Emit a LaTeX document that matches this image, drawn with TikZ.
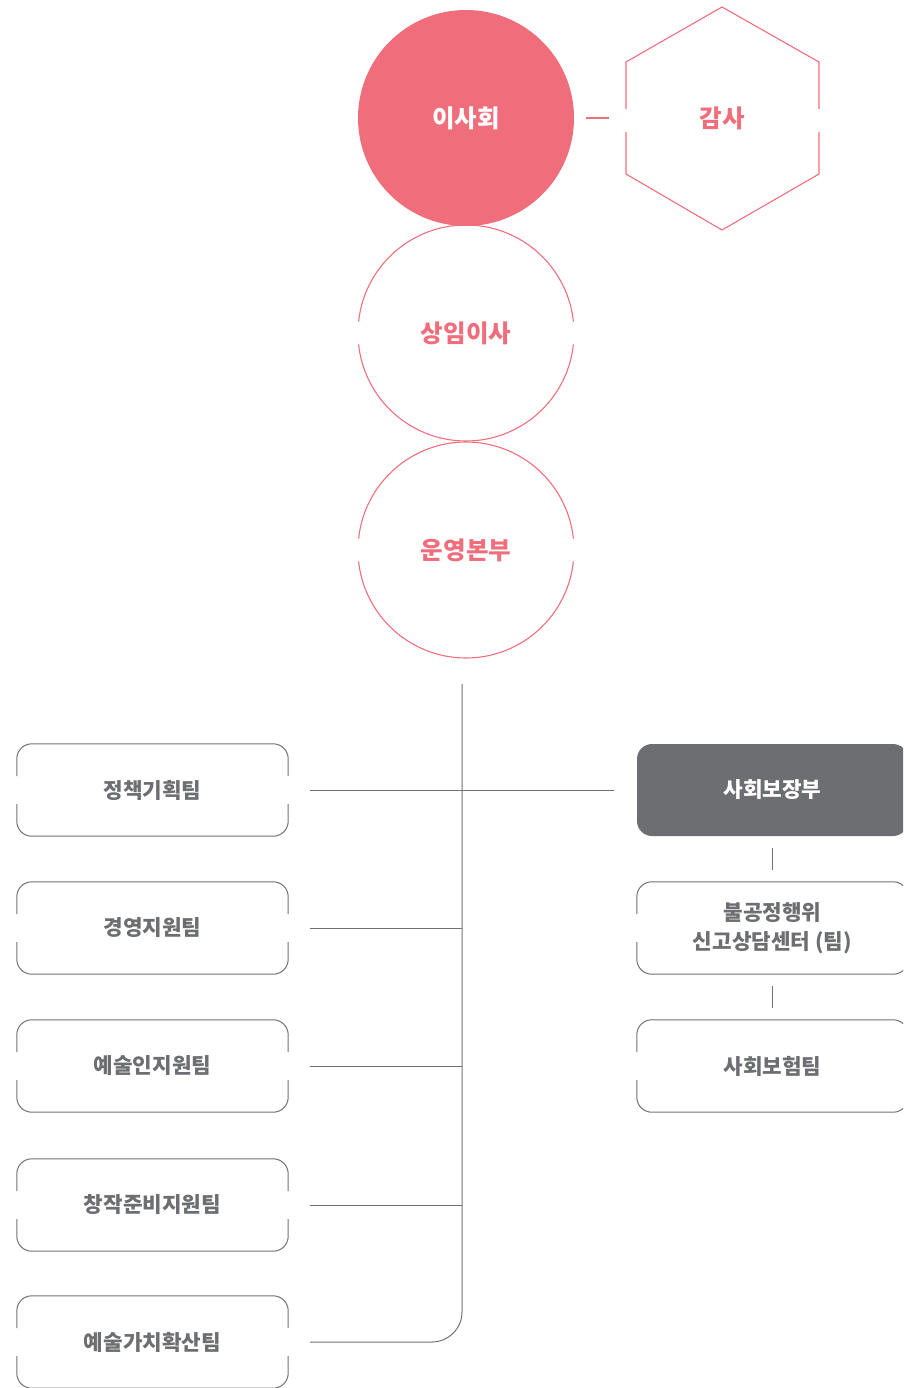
\documentclass[tikz,border=0pt]{standalone}
\usepackage{fontspec}
\setmainfont{Noto Sans CJK KR}
\usetikzlibrary{calc}
\definecolor{pinkc}{HTML}{F06E7B}
\definecolor{darkc}{HTML}{6D6E72}
\definecolor{linec}{HTML}{707175}
\tikzset{
  circtext/.style={font=\bfseries\fontsize{24.5}{28}\selectfont, text=pinkc},
  orgcircle/.style={circle, minimum size=216, inner sep=0},
  boxnode/.style={rectangle, minimum width=271, minimum height=92, inner sep=0, align=center,
     font=\bfseries\fontsize{21.3}{29}\selectfont, text=darkc},
  pinkline/.style={draw=pinkc, line width=1.1pt},
  grayline/.style={draw=linec, line width=1pt},
  boxline/.style={draw=linec, line width=1pt, rounded corners=15},
}
\newcommand{\gapcircle}[1]{%
  \draw[pinkline] ([shift={(6.1:108)}]#1.center) arc[start angle=6.1, end angle=173.9, radius=108];
  \draw[pinkline] ([shift={(186.1:108)}]#1.center) arc[start angle=186.1, end angle=353.9, radius=108];}
\newcommand{\gapbox}[1]{%
  \draw[boxline] ([yshift=14pt]#1.west) -- (#1.north west) -- (#1.north east) -- ([yshift=14pt]#1.east);
  \draw[boxline] ([yshift=-14pt]#1.west) -- (#1.south west) -- (#1.south east) -- ([yshift=-14pt]#1.east);}
\begin{document}
\begin{tikzpicture}[x=1pt,y=-1pt]
\useasboundingbox (0,0) rectangle (903,1388);
\clip (0,0) rectangle (903,1388);
% top circles
\node[orgcircle, fill=pinkc, circtext, text=white] (board) at (466,118) {이사회};
\node[orgcircle, circtext] (exec) at (466,333) {상임이사};
\node[orgcircle, circtext] (ops) at (466,550) {운영본부};
\gapcircle{exec}
\gapcircle{ops}
% audit hexagon
\node[circtext] (audit) at (722,118) {감사};
\draw[pinkline] (626,109) -- (626,62) -- (722,7) -- (819,62) -- (819,109);
\draw[pinkline] (626,132) -- (626,174) -- (722,230) -- (819,174) -- (819,132);
\coordinate (auditw) at (626,118);
\draw[pinkline] ($(board.east)+(12,0)$) -- ($(auditw)+(-17,0)$);
% left boxes
\node[boxnode] (l1) at (152.5,790) {정책기획팀};
\node[boxnode] (l2) at (152.5,928) {경영지원팀};
\node[boxnode] (l3) at (152.5,1066) {예술인지원팀};
\node[boxnode] (l4) at (152.5,1205) {창작준비지원팀};
\node[boxnode] (l5) at (152.5,1342) {예술가치확산팀};
\gapbox{l1}\gapbox{l2}\gapbox{l3}\gapbox{l4}\gapbox{l5}
% right boxes
\node[boxnode, fill=darkc, rounded corners=15, text=white] (r1) at (772.5,790) {사회보장부};
\node[boxnode] (r2) at (772.5,928) {불공정행위\\신고상담센터 (팀)};
\node[boxnode] (r3) at (772.5,1066) {사회보험팀};
\gapbox{r2}\gapbox{r3}
% trunk
\coordinate (trunktop) at (462,684);
\draw[grayline, rounded corners=30] (trunktop) -- (l5.east -| trunktop) -- ($(l5.east)+(22,0)$);
\draw[grayline] ($(l1.east)+(22,0)$) -- ($(r1.west)+(-23,0)$);
\draw[grayline] ($(l2.east)+(22,0)$) -- (l2.east -| trunktop);
\draw[grayline] ($(l3.east)+(22,0)$) -- (l3.east -| trunktop);
\draw[grayline] ($(l4.east)+(22,0)$) -- (l4.east -| trunktop);
\draw[grayline] ($(r1.south)+(0,12)$) -- ($(r2.north)+(0,-12)$);
\draw[grayline] ($(r2.south)+(0,12)$) -- ($(r3.north)+(0,-12)$);
\end{tikzpicture}
\end{document}
